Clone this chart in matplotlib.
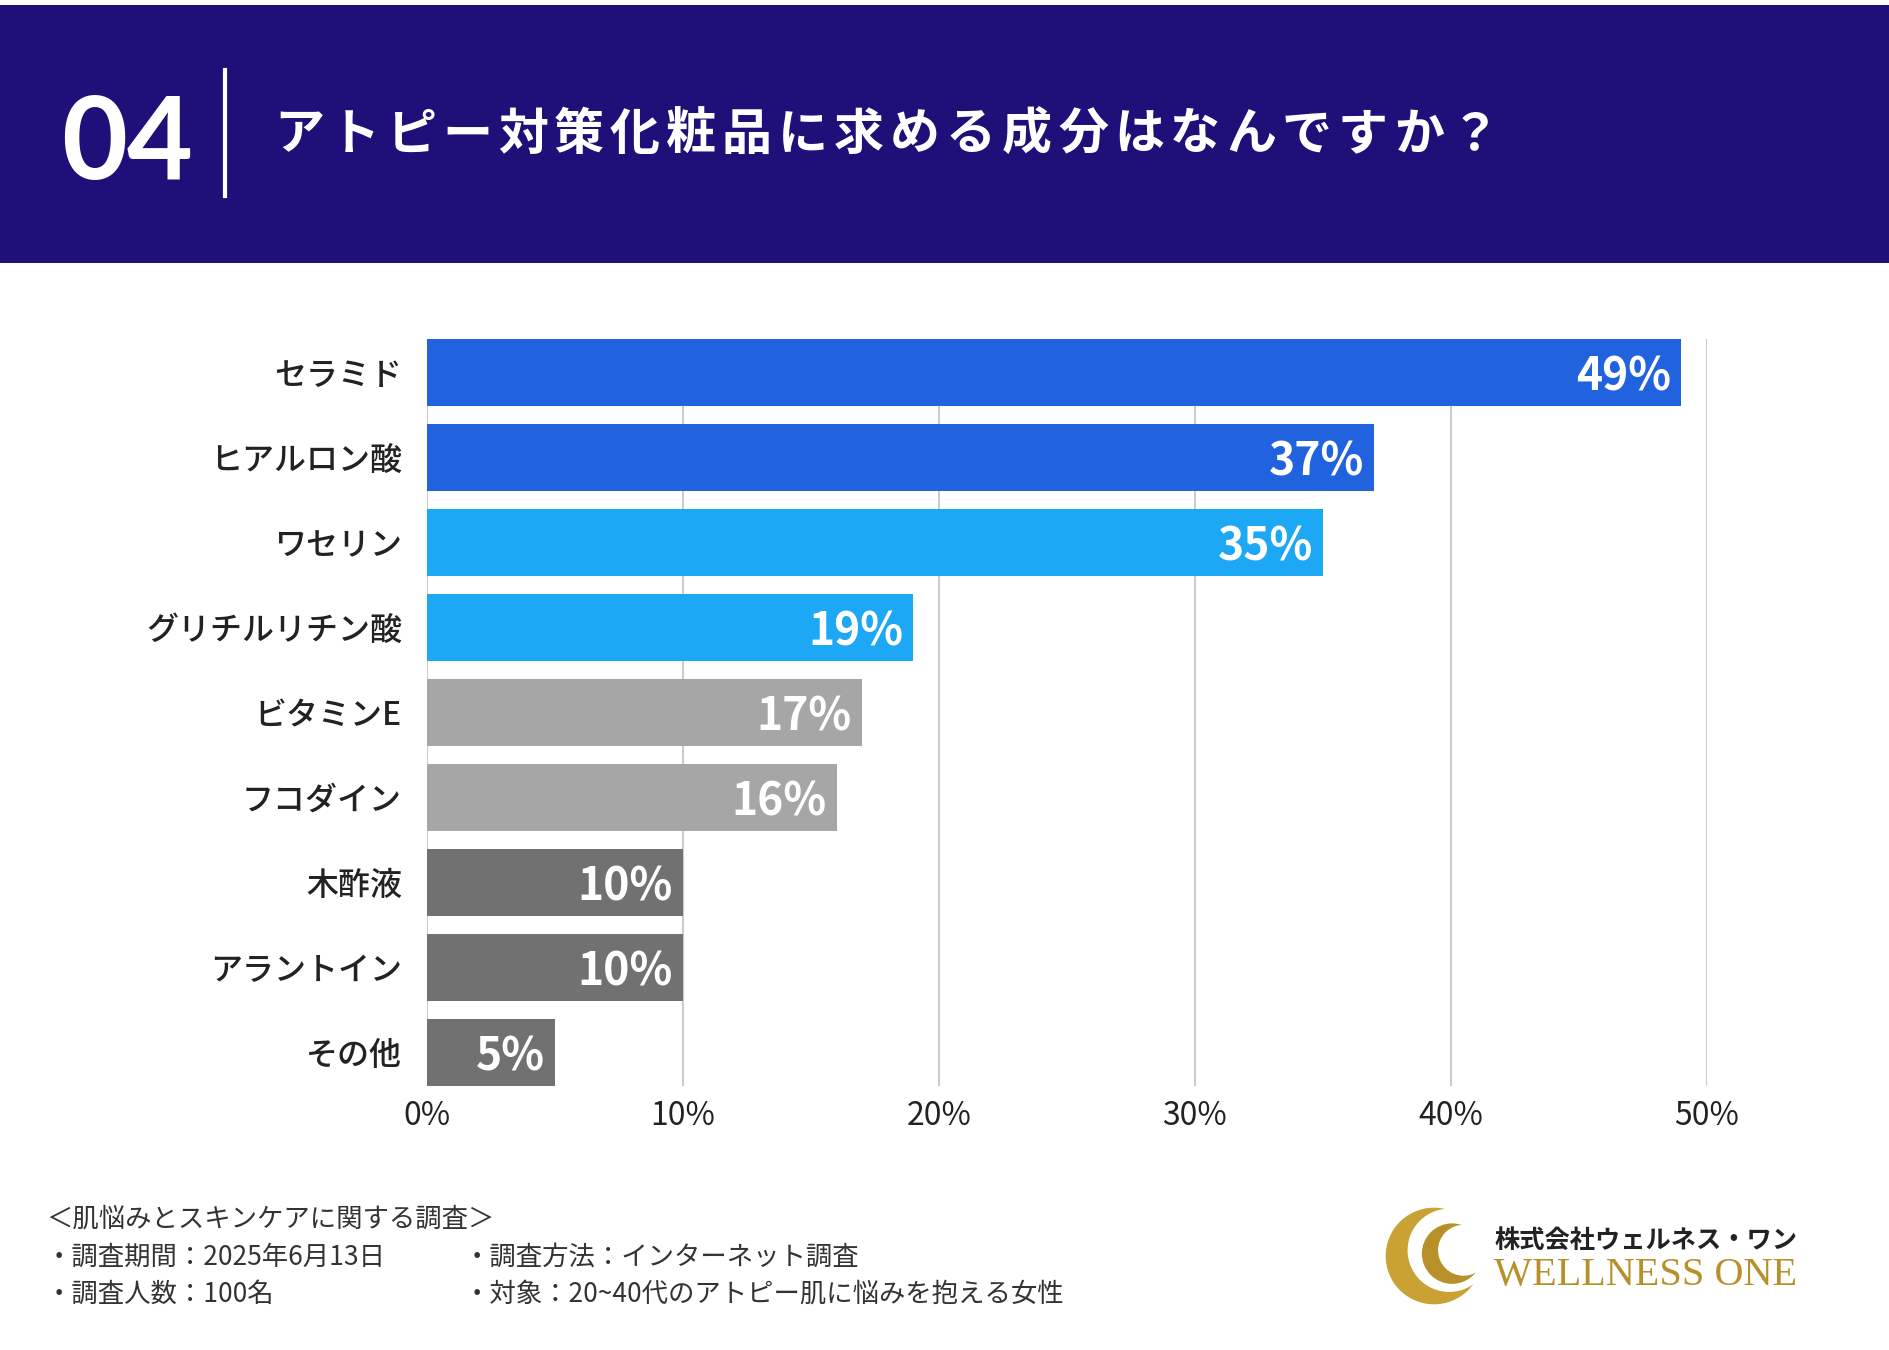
import matplotlib.pyplot as plt
from matplotlib.patches import Rectangle, Circle

plt.rcParams['font.family'] = ['Noto Sans CJK JP', 'DejaVu Sans']

# データ
labels = ['セラミド', 'ヒアルロン酸', 'ワセリン', 'グリチルリチン酸', 'ビタミンE',
          'フコダイン', '木酢液', 'アラントイン', 'その他']
values = [49, 37, 35, 19, 17, 16, 10, 10, 5]
colors = ['#2162DF', '#2162DF', '#1DA8F5', '#1DA8F5', '#A6A6A6',
          '#A6A6A6', '#717171', '#717171', '#717171']
xticks = [0, 10, 20, 30, 40, 50]

title = 'アトピー対策化粧品に求める成分はなんですか？'
footer_head = '＜肌悩みとスキンケアに関する調査＞'
footer_left = ['・調査期間：2025年6月13日', '・調査人数：100名']
footer_right = ['・調査方法：インターネット調査', '・対象：20~40代のアトピー肌に悩みを抱える女性']

W, H = 1890, 1350
fig = plt.figure(figsize=(W / 100, H / 100), dpi=100)
fig.patch.set_facecolor('white')

def fx(px):
    return px / W

def fy(py):
    return 1 - py / H

# ヘッダー
fig.patches.append(Rectangle((0, fy(263)), 1, (263 - 5) / H, transform=fig.transFigure,
                             facecolor='#1E1078', edgecolor='none', zorder=0))
fig.add_artist(plt.Line2D([fx(225), fx(225)], [fy(196), fy(70)], color='white', lw=3,
                          transform=fig.transFigure))
fig.text(fx(127), fy(146), '04', color='white', fontsize=82, fontweight='bold',
         ha='center', va='center', family=['Lato', 'Open Sans', 'DejaVu Sans'])
# タイトル（字間あり）
pitch = 56
for k, ch in enumerate(title):
    fig.text(fx(274 + k * pitch), fy(135), ch, color='white', fontsize=36,
             fontweight='bold', ha='left', va='center')

# グラフ
ax = fig.add_axes([fx(427), fy(1086), (1707 - 427) / W, (1086 - 339) / H])
bh = 0.79
y = list(range(len(labels)))
ax.barh(y, values, height=bh, color=colors, zorder=3)
ax.set_ylim(len(labels) - 1 + bh / 2, -bh / 2)
ax.set_xlim(0, 50)
ax.set_yticks(y)
ax.set_yticklabels(labels, fontsize=23, fontweight='medium', color='#222222')
ax.set_xticks(xticks)
ax.set_xticklabels([f'{t}%' for t in xticks], fontsize=23, color='#222222')
ax.tick_params(axis='y', length=0, pad=18)
ax.tick_params(axis='x', length=0, pad=10)
ax.grid(axis='x', color='#CCCCCC', lw=1.5, zorder=0)
ax.set_axisbelow(True)
for s in ax.spines.values():
    s.set_visible(False)

for i, v in enumerate(values):
    ax.text(v - 0.4, i + 0.06, f'{v}%', color='white', fontsize=32, fontweight='bold',
            ha='right', va='center', zorder=4)

# フッター
fs = 19
fig.text(fx(46), fy(1219), footer_head, fontsize=fs, color='#333333', va='center')
for k, (l, r) in enumerate(zip(footer_left, footer_right)):
    yy = fy(1257 + k * 37)
    fig.text(fx(46), yy, l, fontsize=fs, color='#333333', va='center')
    fig.text(fx(464), yy, r, fontsize=fs, color='#333333', va='center')

# ロゴ
lax = fig.add_axes([fx(1384), fy(1306), 100 / W, 100 / H])
lax.set_xlim(-1.05, 1.05)
lax.set_ylim(-1.05, 1.05)
lax.set_aspect('equal')
lax.axis('off')
lax.add_patch(Circle((0, 0), 1.0, color='#C9A233'))
lax.add_patch(Circle((0.32, 0.12), 0.86, color='white'))
lax.add_patch(Circle((0.38, 0.05), 0.62, color='#B8902A'))
lax.add_patch(Circle((0.62, 0.12), 0.52, color='white'))
fig.text(fx(1495), fy(1240), '株式会社ウェルネス・ワン', fontsize=18.2, fontweight='bold',
         color='#222222', va='center')
fig.text(fx(1494), fy(1276), 'WELLNESS ONE', fontsize=29, color='#B8902A', va='center',
         family=['Liberation Serif', 'DejaVu Serif'])

fig.savefig('out.png', dpi=100)
